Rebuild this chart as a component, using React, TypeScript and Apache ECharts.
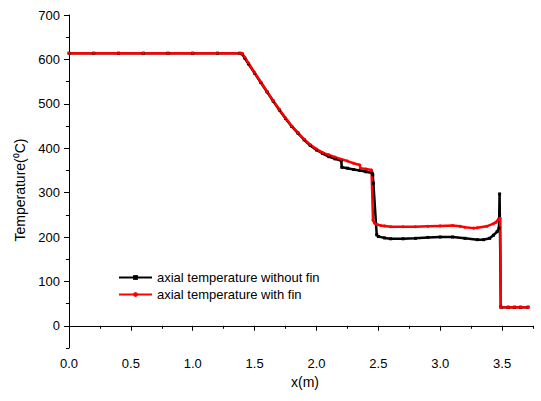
import React, { useEffect, useRef } from "react";
import * as echarts from "echarts";

const seriesNames = ["axial temperature without fin", "axial temperature with fin"];

const xWithout = [0, 0.2, 0.4, 0.6, 0.8, 1.0, 1.2, 1.38, 1.4, 1.42, 1.45, 1.5, 1.55, 1.6, 1.65, 1.7, 1.75, 1.8, 1.85, 1.9, 1.95, 2.0, 2.05, 2.1, 2.15, 2.2, 2.205, 2.25, 2.3, 2.35, 2.4, 2.45, 2.455, 2.46, 2.487, 2.5, 2.55, 2.6, 2.7, 2.8, 2.9, 3.0, 3.1, 3.2, 3.3, 3.35, 3.4, 3.43, 3.46, 3.475, 3.48, 3.49, 3.55, 3.6, 3.65, 3.71];
const tWithout = [614, 614, 614, 614, 614, 614, 614, 614, 612, 603, 590, 569, 548, 527, 506, 486, 467, 449, 434, 419, 406, 396, 388, 381, 376, 372, 357, 355, 352, 350, 347, 344, 340, 321, 205, 201, 198, 196, 196, 197, 199, 200, 200, 197, 194, 194, 197, 204, 212, 220, 297, 42, 42, 42, 42, 42];

const xWith = [0, 0.2, 0.4, 0.6, 0.8, 1.0, 1.2, 1.38, 1.4, 1.42, 1.45, 1.5, 1.55, 1.6, 1.65, 1.7, 1.75, 1.8, 1.85, 1.9, 1.95, 2.0, 2.05, 2.1, 2.15, 2.2, 2.25, 2.3, 2.35, 2.355, 2.4, 2.445, 2.457, 2.47, 2.49, 2.52, 2.55, 2.6, 2.7, 2.8, 2.9, 3.0, 3.1, 3.16, 3.2, 3.27, 3.3, 3.376, 3.43, 3.45, 3.47, 3.485, 3.49, 3.55, 3.6, 3.65, 3.71];
const tWith = [614, 614, 614, 614, 614, 614, 614, 614, 613, 605, 592, 570, 549, 528, 507, 487, 468, 450, 435, 420, 408, 398, 390, 385, 380, 375, 371, 366, 362, 355, 353, 351, 238, 231, 228, 226, 225, 223, 223, 223, 224, 225, 226, 224, 222, 220, 221, 224, 230, 233, 240, 242, 42, 42, 42, 42, 42];

const xMajorTicks = [0, 0.5, 1.0, 1.5, 2.0, 2.5, 3.0, 3.5];
const xMinorTicks = [0.25, 0.75, 1.25, 1.75, 2.25, 2.75, 3.25, 3.75];
const yMajorTicks = [0, 100, 200, 300, 400, 500, 600, 700];
const yMinorTicks = [-50, 50, 150, 250, 350, 450, 550, 650];

const FONT = "Liberation Sans, Arial, sans-serif";

export default function App() {
  const ref = useRef<HTMLDivElement>(null);
  useEffect(() => {
    if (!ref.current) return;
    const chart = echarts.init(ref.current, null, { renderer: "svg" });
    const axisCommon = {
      axisLine: { lineStyle: { color: "#000", width: 1 } },
      splitLine: { show: false },
    };
    chart.setOption({
      animation: false,
      backgroundColor: "#fff",
      textStyle: { fontFamily: FONT },
      grid: { left: 69, right: 8, top: 15, bottom: 53, containLabel: false },
      legend: {
        orient: "vertical",
        left: 113,
        top: 266,
        itemWidth: 33,
        itemHeight: 6,
        itemGap: 4,
        textStyle: { fontFamily: FONT, fontSize: 13, color: "#000" },
        data: seriesNames,
      },
      xAxis: [
        {
          type: "value",
          min: 0,
          max: 3.75,
          interval: 0.25,
          ...axisCommon,
          name: "x(m)",
          nameLocation: "middle",
          nameGap: 22,
          nameTextStyle: { fontFamily: FONT, fontSize: 14, color: "#000", padding: [0, 0, 0, 8] },
          axisTick: { show: true, inside: false, length: 5, customValues: xMajorTicks, lineStyle: { color: "#000" } },
          axisLabel: {
            customValues: xMajorTicks,
            margin: 9,
            fontSize: 13,
            color: "#000",
            fontFamily: FONT,
            formatter: (v: number) => v.toFixed(1),
          },
        },
        {
          type: "value",
          min: 0,
          max: 3.75,
          interval: 0.25,
          position: "bottom",
          axisLine: { show: false },
          splitLine: { show: false },
          axisLabel: { show: false },
          axisTick: { show: true, inside: false, length: 3, customValues: xMinorTicks, lineStyle: { color: "#000" } },
        },
      ],
      yAxis: [
        {
          type: "value",
          min: -50,
          max: 700,
          interval: 50,
          ...axisCommon,
          name: "Temperature(⁰C)",
          nameLocation: "middle",
          nameGap: 37,
          nameTextStyle: { fontFamily: FONT, fontSize: 14, color: "#000", padding: [0, 17, 0, 0] },
          axisTick: { show: true, inside: false, length: 5, customValues: yMajorTicks, lineStyle: { color: "#000" } },
          axisLabel: {
            customValues: yMajorTicks,
            margin: 9,
            fontSize: 13,
            color: "#000",
            fontFamily: FONT,
          },
        },
        {
          type: "value",
          min: -50,
          max: 700,
          interval: 50,
          position: "left",
          axisLine: { show: false },
          splitLine: { show: false },
          axisLabel: { show: false },
          axisTick: { show: true, inside: false, length: 3, customValues: yMinorTicks, lineStyle: { color: "#000" } },
        },
      ],
      series: [
        {
          name: seriesNames[0],
          type: "line",
          xAxisIndex: 0,
          yAxisIndex: 0,
          data: xWithout.map((x, i) => [x, tWithout[i]]),
          symbol: "rect",
          symbolSize: 3,
          showSymbol: true,
          color: "#000",
          lineStyle: { color: "#000", width: 2.5 },
          itemStyle: { color: "#000" },
        },
        {
          name: seriesNames[1],
          type: "line",
          xAxisIndex: 0,
          yAxisIndex: 0,
          data: xWith.map((x, i) => [x, tWith[i]]),
          symbol: "circle",
          symbolSize: 3,
          showSymbol: true,
          color: "#ff0000",
          lineStyle: { color: "#ff0000", width: 2.5 },
          itemStyle: { color: "#ff0000" },
        },
      ],
    });
    return () => chart.dispose();
  }, []);
  return (
    <div
      ref={ref}
      style={{ position: "fixed", left: 0, top: 0, width: 541, height: 401, background: "#fff" }}
    />
  );
}
